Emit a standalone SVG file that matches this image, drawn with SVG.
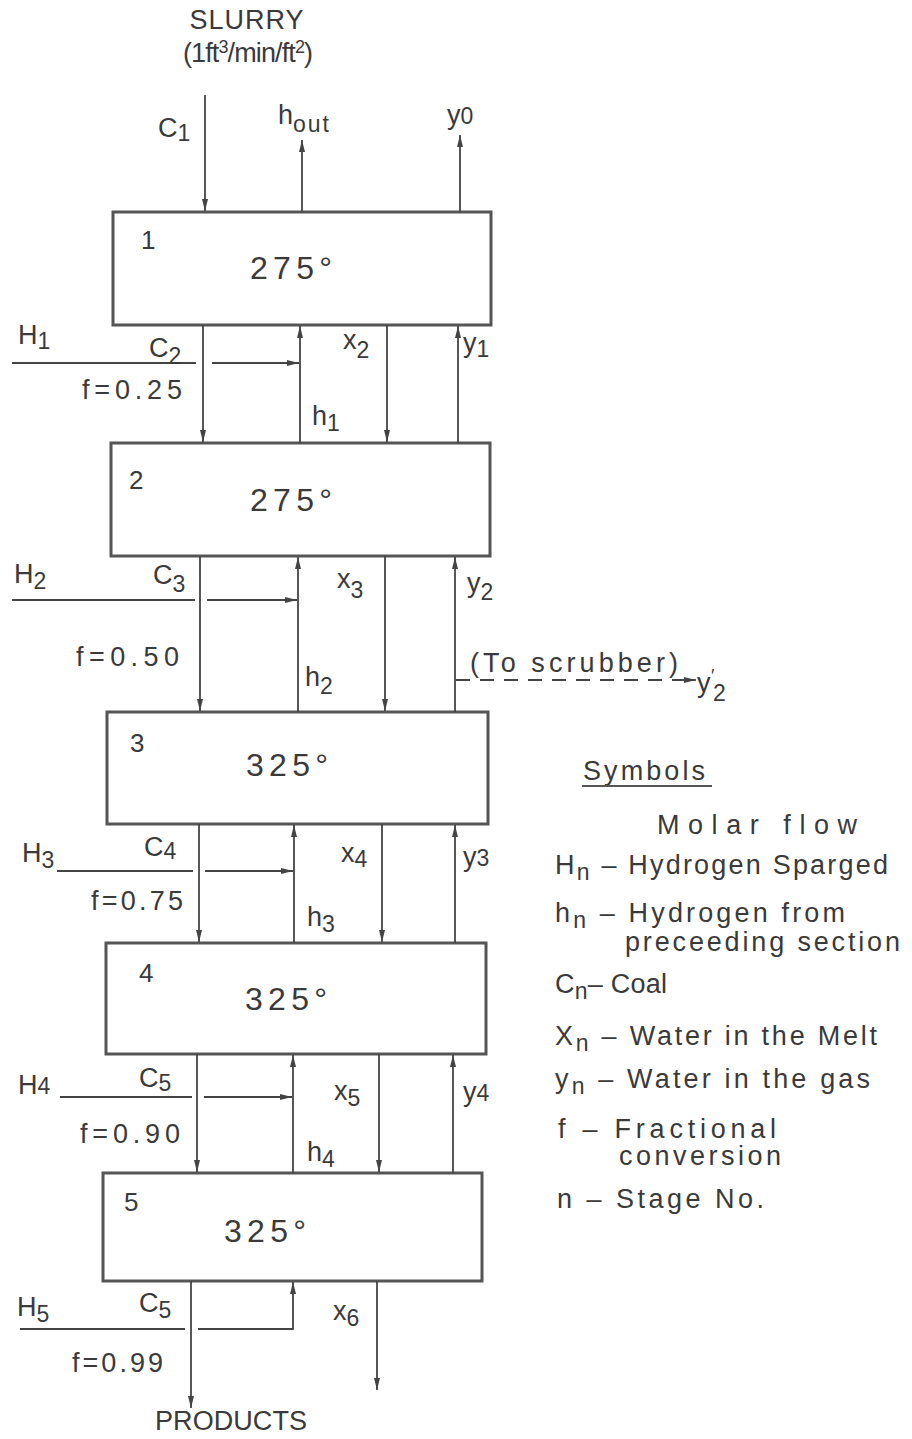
<svg xmlns="http://www.w3.org/2000/svg" width="912" height="1439" viewBox="0 0 912 1439">
<style>
text{font-family:"Liberation Sans",Arial,sans-serif;fill:#3a3a3a;font-size:27px}
.box{fill:none;stroke:#555;stroke-width:3}
.ln{stroke:#444;stroke-width:1.8;fill:none}
.dash{stroke:#444;stroke-width:1.8;fill:none;stroke-dasharray:14 10}
.big{font-size:32px}
.num{font-size:26px}
.sub{font-size:23px}
.sm{font-size:18px}
.leg{font-size:27px}
</style>
<defs>
<marker id="ar" viewBox="0 0 12 8" refX="12" refY="4" markerWidth="12" markerHeight="8" markerUnits="userSpaceOnUse" orient="auto">
<path d="M0,1 L12,4 L0,7 Z" fill="#444"/>
</marker>
</defs>

<g id="header">
<text x="247" y="29" font-size="22" letter-spacing="1" text-anchor="middle">SLURRY</text>
<text x="183" y="62" font-size="22" textLength="130">(1ft<tspan class="sm" dy="-9">3</tspan><tspan dy="9">/min/ft</tspan><tspan class="sm" dy="-9">2</tspan><tspan dy="9">)</tspan></text>
<text x="158" y="137">C<tspan class="sub" dy="4">1</tspan></text>
<text x="278" y="124">h<tspan class="sub" dy="8" letter-spacing="2">out</tspan></text>
<text x="447" y="124">y<tspan class="sub" dy="0">0</tspan></text>
</g>

<g id="stage1">
<rect class="box" x="113" y="212" width="378" height="113"/>
<text class="num" x="141" y="249">1</text>
<text class="big" x="250" y="279" textLength="82">275°</text>
</g>
<g id="stage2">
<rect class="box" x="111" y="443" width="379" height="113"/>
<text class="num" x="129" y="489">2</text>
<text class="big" x="250" y="511" textLength="82">275°</text>
</g>
<g id="stage3">
<rect class="box" x="107" y="712" width="381" height="112"/>
<text class="num" x="130" y="752">3</text>
<text class="big" x="246" y="776" textLength="82">325°</text>
</g>
<g id="stage4">
<rect class="box" x="106" y="943" width="380" height="111"/>
<text class="num" x="139" y="982">4</text>
<text class="big" x="245" y="1010" textLength="82">325°</text>
</g>
<g id="stage5">
<rect class="box" x="103" y="1173" width="379" height="108"/>
<text class="num" x="124" y="1211">5</text>
<text class="big" x="224" y="1242" textLength="82">325°</text>
</g>

<g id="connectors">
<line class="ln" x1="205" y1="95" x2="205" y2="211" marker-end="url(#ar)"/>
<line class="ln" x1="302" y1="212" x2="302" y2="140" marker-end="url(#ar)"/>
<line class="ln" x1="460" y1="212" x2="460" y2="135" marker-end="url(#ar)"/>
<line class="ln" x1="203" y1="325" x2="203" y2="442" marker-end="url(#ar)"/>
<line class="ln" x1="300" y1="443" x2="300" y2="326" marker-end="url(#ar)"/>
<line class="ln" x1="387" y1="325" x2="387" y2="442" marker-end="url(#ar)"/>
<line class="ln" x1="458" y1="443" x2="458" y2="326" marker-end="url(#ar)"/>
<line class="ln" x1="12" y1="363" x2="196" y2="363"/>
<line class="ln" x1="212" y1="363" x2="299" y2="363" marker-end="url(#ar)"/>
<line class="ln" x1="200" y1="556" x2="200" y2="711" marker-end="url(#ar)"/>
<line class="ln" x1="298" y1="712" x2="298" y2="557" marker-end="url(#ar)"/>
<line class="ln" x1="385" y1="556" x2="385" y2="711" marker-end="url(#ar)"/>
<line class="ln" x1="455" y1="712" x2="455" y2="557" marker-end="url(#ar)"/>
<line class="ln" x1="12" y1="600" x2="195" y2="600"/>
<line class="ln" x1="207" y1="600" x2="297" y2="600" marker-end="url(#ar)"/>
<line class="dash" x1="456" y1="680" x2="683" y2="680"/>
<line class="ln" x1="676" y1="680" x2="696" y2="680" marker-end="url(#ar)"/>
<line class="ln" x1="199" y1="824" x2="199" y2="942" marker-end="url(#ar)"/>
<line class="ln" x1="294" y1="943" x2="294" y2="825" marker-end="url(#ar)"/>
<line class="ln" x1="382" y1="824" x2="382" y2="942" marker-end="url(#ar)"/>
<line class="ln" x1="455" y1="943" x2="455" y2="825" marker-end="url(#ar)"/>
<line class="ln" x1="57" y1="871" x2="193" y2="871"/>
<line class="ln" x1="205" y1="871" x2="293" y2="871" marker-end="url(#ar)"/>
<line class="ln" x1="197" y1="1054" x2="197" y2="1172" marker-end="url(#ar)"/>
<line class="ln" x1="293" y1="1173" x2="293" y2="1055" marker-end="url(#ar)"/>
<line class="ln" x1="379" y1="1054" x2="379" y2="1172" marker-end="url(#ar)"/>
<line class="ln" x1="453" y1="1173" x2="453" y2="1055" marker-end="url(#ar)"/>
<line class="ln" x1="60" y1="1097" x2="192" y2="1097"/>
<line class="ln" x1="204" y1="1097" x2="292" y2="1097" marker-end="url(#ar)"/>
<line class="ln" x1="191" y1="1281" x2="191" y2="1408" marker-end="url(#ar)"/>
<line class="ln" x1="377" y1="1281" x2="377" y2="1390" marker-end="url(#ar)"/>
<line class="ln" x1="20" y1="1329" x2="185" y2="1329"/>
<polyline class="ln" points="198,1329 293,1329 293,1282" marker-end="url(#ar)"/>
</g>

<g id="labels">
<text x="18" y="344">H<tspan class="sub" dy="5">1</tspan></text>
<text x="149" y="357">C<tspan class="sub" dy="7">2</tspan></text>
<text x="82" y="399" textLength="100">f=0.25</text>
<text x="343" y="349">x<tspan class="sub" dy="9">2</tspan></text>
<text x="463" y="352">y<tspan class="sub" dy="5">1</tspan></text>
<text x="312" y="425">h<tspan class="sub" dy="6">1</tspan></text>

<text x="14" y="583">H<tspan class="sub" dy="6">2</tspan></text>
<text x="153" y="584">C<tspan class="sub" dy="8">3</tspan></text>
<text x="76" y="666" textLength="103">f=0.50</text>
<text x="337" y="588">x<tspan class="sub" dy="10">3</tspan></text>
<text x="467" y="592">y<tspan class="sub" dy="8">2</tspan></text>
<text x="305" y="686">h<tspan class="sub" dy="8">2</tspan></text>
<text x="470" y="672" textLength="208">(To scrubber)</text>
<text x="697" y="692">y</text>
<text class="sm" x="711" y="682">′</text>
<text class="sub" x="713" y="701">2</text>

<text x="22" y="862">H<tspan class="sub" dy="6">3</tspan></text>
<text x="144" y="856">C<tspan class="sub" dy="3">4</tspan></text>
<text x="91" y="910" textLength="92">f=0.75</text>
<text x="341" y="862">x<tspan class="sub" dy="5">4</tspan></text>
<text x="463" y="866">y<tspan class="sub" dy="0">3</tspan></text>
<text x="307" y="926">h<tspan class="sub" dy="6">3</tspan></text>

<text x="18" y="1094">H<tspan class="sub" dy="0">4</tspan></text>
<text x="139" y="1087">C<tspan class="sub" dy="4">5</tspan></text>
<text x="80" y="1143" textLength="100">f=0.90</text>
<text x="334" y="1100">x<tspan class="sub" dy="6">5</tspan></text>
<text x="463" y="1101">y<tspan class="sub" dy="0">4</tspan></text>
<text x="307" y="1161">h<tspan class="sub" dy="6">4</tspan></text>

<text x="17" y="1316">H<tspan class="sub" dy="6">5</tspan></text>
<text x="139" y="1312">C<tspan class="sub" dy="6">5</tspan></text>
<text x="72" y="1372" textLength="91">f=0.99</text>
<text x="333" y="1320">x<tspan class="sub" dy="6">6</tspan></text>
<text x="155" y="1430" textLength="152">PRODUCTS</text>
</g>

<g id="legend">
<text class="leg" x="583" y="780" textLength="122">Symbols</text>
<line x1="582" y1="786" x2="712" y2="786" stroke="#555" stroke-width="2"/>
<text class="leg" x="657" y="834" textLength="200" font-size="29">Molar flow</text>
<text class="leg" x="555" y="874" textLength="333">H<tspan class="sub" dy="6">n</tspan><tspan dy="-6"> – Hydrogen Sparged</tspan></text>
<text class="leg" x="555" y="922" textLength="290">h<tspan class="sub" dy="6">n</tspan><tspan dy="-6"> – Hydrogen from</tspan></text>
<text class="leg" x="625" y="951" textLength="275">preceeding section</text>
<text class="leg" x="555" y="993" textLength="112">C<tspan class="sub" dy="6">n</tspan><tspan dy="-6">– Coal</tspan></text>
<text class="leg" x="555" y="1045" textLength="322">X<tspan class="sub" dy="6">n</tspan><tspan dy="-6"> – Water in the Melt</tspan></text>
<text class="leg" x="555" y="1088" textLength="315">y<tspan class="sub" dy="6">n</tspan><tspan dy="-6"> – Water in the gas</tspan></text>
<text class="leg" x="558" y="1138" textLength="218">f  – Fractional</text>
<text class="leg" x="619" y="1165" textLength="162">conversion</text>
<text class="leg" x="557" y="1208" textLength="207">n – Stage No.</text>
</g>
</svg>
